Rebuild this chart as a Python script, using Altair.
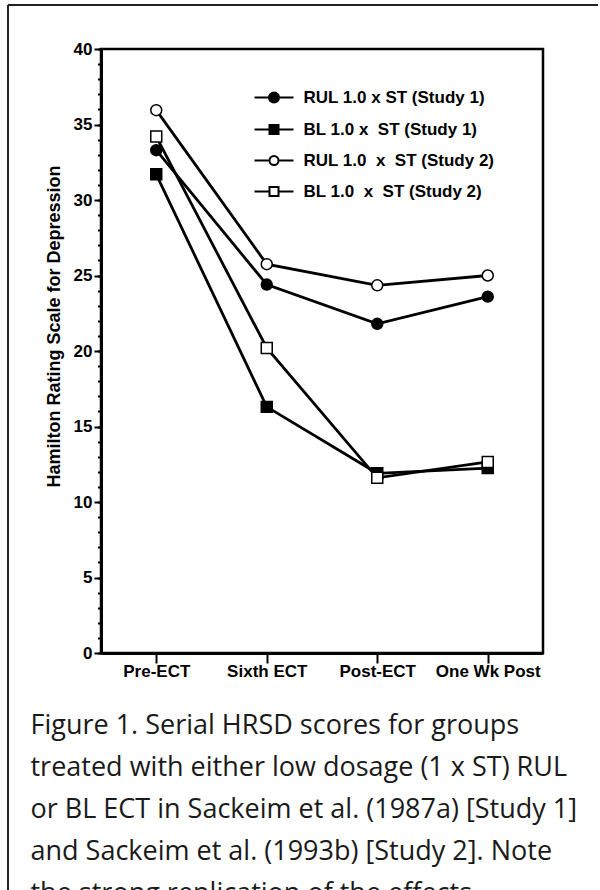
import altair as alt
import pandas as pd

stages = ["Pre-ECT", "Sixth ECT", "Post-ECT", "One Wk Post"]
NB = "\u00a0"
series_names = [
    "RUL 1.0 x ST (Study 1)",
    "BL 1.0 x" + NB + " ST (Study 1)",
    "RUL 1.0" + NB + " x" + NB + " ST (Study 2)",
    "BL 1.0" + NB + " x" + NB + " ST (Study 2)",
]
rul_study1 = [33.3, 24.4, 21.8, 23.6]
bl_study1 = [31.7, 16.3, 11.9, 12.25]
rul_study2 = [35.95, 25.75, 24.35, 25.0]
bl_study2 = [34.2, 20.2, 11.6, 12.65]

plot_shapes = ["circle", "square", "circle", "square"]
fills = ["black", "black", "white", "white"]

caption_lines = [
    "Figure 1. Serial HRSD scores for groups",
    "treated with either low dosage (1 x ST) RUL",
    "or BL ECT in Sackeim et al. (1987a) [Study 1]",
    "and Sackeim et al. (1993b) [Study 2]. Note",
    "the strong replication of the effects",
]

rows = []
for name, vals, shp, fc in zip(series_names, [rul_study1, bl_study1, rul_study2, bl_study2],
                              plot_shapes, fills):
    for st, v in zip(stages, vals):
        rows.append({"stage": st, "series": name, "value": v, "shp": shp, "fillc": fc})
df = pd.DataFrame(rows)

FONT = "Liberation Sans"

x_enc = alt.X("stage:N", sort=stages,
              scale=alt.Scale(type="point", padding=0.5),
              axis=alt.Axis(labelAngle=0, labelFont=FONT, labelFontSize=17,
                            labelFontWeight="bold", labelColor="black", labelPadding=0,
                            tickSize=10, tickWidth=2, tickColor="black",
                            domainColor="black", domainWidth=3, grid=False,
                            title=caption_lines, titleFont="Open Sans", titleFontSize=27,
                            titleFontWeight="normal", titleColor="#1a1a1a",
                            titleAnchor="start", titleAlign="left", titleBaseline="alphabetic",
                            titleLineHeight=42, titleX=-71, titleY=80, titleLimit=2000))
y_scale = alt.Scale(domain=[0, 40], nice=False)
y_major = alt.Y("value:Q", scale=y_scale,
                axis=alt.Axis(title="Hamilton Rating Scale for Depression", orient="left",
                              values=list(range(0, 41, 5)), labelFont=FONT, labelFontSize=17,
                              labelFontWeight="bold", labelColor="black", labelPadding=2,
                              tickSize=7, tickWidth=2, tickColor="black",
                              domainColor="black", domainWidth=3, grid=False,
                              titleFont=FONT, titleFontSize=18, titleFontWeight="bold",
                              titleColor="black", titlePadding=10, titleY=277))
y_minor = alt.Y("value:Q", scale=y_scale,
                axis=alt.Axis(title=None, orient="left", values=list(range(0, 41)),
                              labels=False, domain=False, tickSize=3.5, tickWidth=2,
                              tickColor="black", grid=False))
y_plain = alt.Y("value:Q", scale=y_scale, axis=None)

legend_paths = [
    "M-3.9,0H-1M1,0H3.9M-1,0A1,1 0 1,0 1,0A1,1 0 1,0 -1,0Z",
    "M-3.9,0H-0.9M0.9,0H3.9M-0.9,-0.9H0.9V0.9H-0.9Z",
    "M-3.9,0H-0.9M0.9,0H3.9M-0.9,0A0.9,0.9 0 1,0 0.9,0A0.9,0.9 0 1,0 -0.9,0Z",
    "M-3.9,0H-0.9M0.9,0H3.9M-0.9,-0.9H0.9V0.9H-0.9Z",
]

base = alt.Chart(df)

lines = base.mark_line(color="black", strokeWidth=2.8).encode(
    x=x_enc, y=y_major, detail="series:N")

points = base.mark_point(filled=True, stroke="black", strokeWidth=1.5, size=120, opacity=1).encode(
    x=x_enc, y=y_plain,
    shape=alt.Shape("shp:N", scale=None),
    fill=alt.Fill("fillc:N", scale=None),
)

leg = alt.Legend(title=None, orient="none", legendX=164.5, legendY=40, padding=0,
                 labelFont=FONT, labelFontSize=17, labelFontWeight="bold", labelColor="black",
                 labelOffset=21, rowPadding=13, symbolSize=100, symbolStrokeWidth=2,
                 symbolStrokeColor="black", labelLimit=400)

legend_layer = base.transform_filter("false").mark_point(
    filled=True, stroke="black", strokeWidth=2, size=100, opacity=1).encode(
    x=x_enc, y=y_minor,
    shape=alt.Shape("series:N", scale=alt.Scale(domain=series_names, range=legend_paths), legend=leg),
    fill=alt.Fill("series:N", scale=alt.Scale(domain=series_names, range=fills), legend=leg),
    stroke=alt.value("black"),
)

one = pd.DataFrame({"k": [0]})
border_left = alt.Chart(one).mark_rule(color="#222", strokeWidth=2).encode(
    x=alt.value(-93), y=alt.value(-44), y2=alt.value(900))
border_top = alt.Chart(one).mark_rule(color="#222", strokeWidth=2).encode(
    x=alt.value(-93), x2=alt.value(497), y=alt.value(-44))

chart = alt.layer(lines, points, legend_layer, border_left, border_top).resolve_axis(
    y="independent"
).properties(
    width=442, height=604,
    padding={"left": 7, "top": 4, "right": 0, "bottom": 5},
).configure_view(stroke="black", strokeWidth=2.5)

chart.save("out.html", embed_options={"renderer": "svg", "actions": False})
